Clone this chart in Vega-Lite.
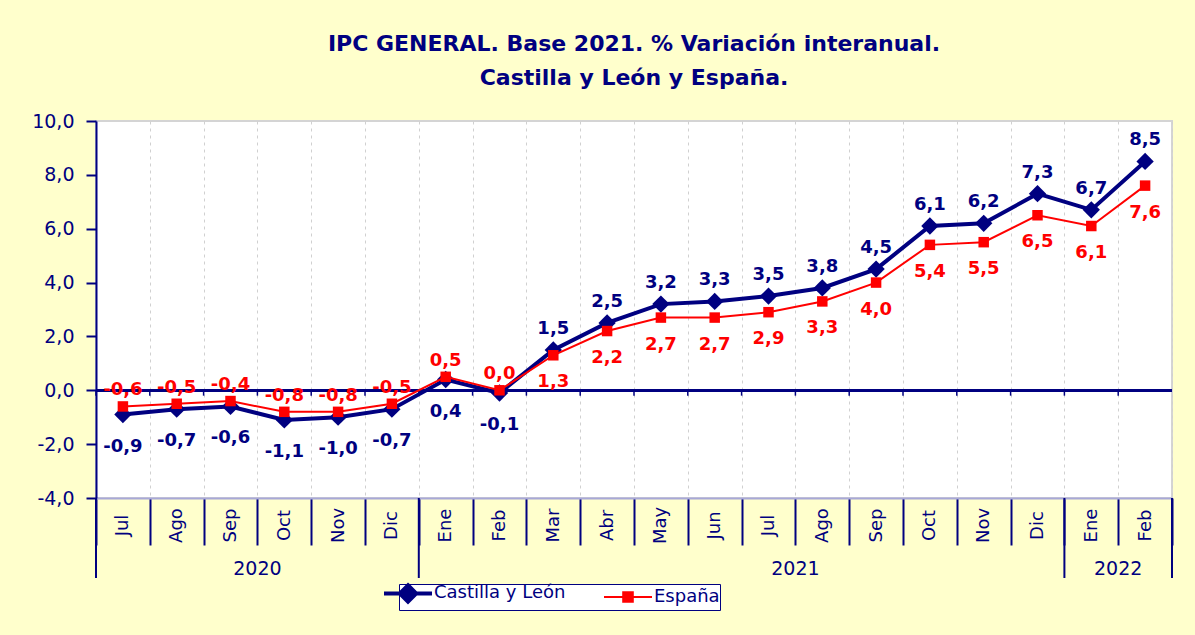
{
  "$schema": "https://vega.github.io/schema/vega-lite/v6.json",
  "width": 1076,
  "height": 377,
  "autosize": {"type": "none"},
  "padding": {"left": 96, "top": 121, "right": 23, "bottom": 137},
  "background": "#FFFFCC",
  "title": {
    "text": ["IPC GENERAL. Base 2021. % Variación interanual.", "Castilla y León y España."],
    "font": "DejaVu Sans", "fontSize": 22, "fontWeight": "bold", "color": "#000080",
    "anchor": "middle", "offset": 22, "lineHeight": 34
  },
  "config": {
    "aria": false,
    "view": {"fill": "white", "stroke": "#D4D4D4", "strokeWidth": 2},
    "font": "DejaVu Sans"
  },
  "data": {"values": [
    {"fecha": "2020-07", "anio": "2020", "serie": "Castilla y León", "v": -0.9},
    {"fecha": "2020-08", "anio": "2020", "serie": "Castilla y León", "v": -0.7},
    {"fecha": "2020-09", "anio": "2020", "serie": "Castilla y León", "v": -0.6},
    {"fecha": "2020-10", "anio": "2020", "serie": "Castilla y León", "v": -1.1},
    {"fecha": "2020-11", "anio": "2020", "serie": "Castilla y León", "v": -1.0},
    {"fecha": "2020-12", "anio": "2020", "serie": "Castilla y León", "v": -0.7},
    {"fecha": "2021-01", "anio": "2021", "serie": "Castilla y León", "v": 0.4},
    {"fecha": "2021-02", "anio": "2021", "serie": "Castilla y León", "v": -0.1},
    {"fecha": "2021-03", "anio": "2021", "serie": "Castilla y León", "v": 1.5},
    {"fecha": "2021-04", "anio": "2021", "serie": "Castilla y León", "v": 2.5},
    {"fecha": "2021-05", "anio": "2021", "serie": "Castilla y León", "v": 3.2},
    {"fecha": "2021-06", "anio": "2021", "serie": "Castilla y León", "v": 3.3},
    {"fecha": "2021-07", "anio": "2021", "serie": "Castilla y León", "v": 3.5},
    {"fecha": "2021-08", "anio": "2021", "serie": "Castilla y León", "v": 3.8},
    {"fecha": "2021-09", "anio": "2021", "serie": "Castilla y León", "v": 4.5},
    {"fecha": "2021-10", "anio": "2021", "serie": "Castilla y León", "v": 6.1},
    {"fecha": "2021-11", "anio": "2021", "serie": "Castilla y León", "v": 6.2},
    {"fecha": "2021-12", "anio": "2021", "serie": "Castilla y León", "v": 7.3},
    {"fecha": "2022-01", "anio": "2022", "serie": "Castilla y León", "v": 6.7},
    {"fecha": "2022-02", "anio": "2022", "serie": "Castilla y León", "v": 8.5},
    {"fecha": "2020-07", "anio": "2020", "serie": "España", "v": -0.6},
    {"fecha": "2020-08", "anio": "2020", "serie": "España", "v": -0.5},
    {"fecha": "2020-09", "anio": "2020", "serie": "España", "v": -0.4},
    {"fecha": "2020-10", "anio": "2020", "serie": "España", "v": -0.8},
    {"fecha": "2020-11", "anio": "2020", "serie": "España", "v": -0.8},
    {"fecha": "2020-12", "anio": "2020", "serie": "España", "v": -0.5},
    {"fecha": "2021-01", "anio": "2021", "serie": "España", "v": 0.5},
    {"fecha": "2021-02", "anio": "2021", "serie": "España", "v": 0.0},
    {"fecha": "2021-03", "anio": "2021", "serie": "España", "v": 1.3},
    {"fecha": "2021-04", "anio": "2021", "serie": "España", "v": 2.2},
    {"fecha": "2021-05", "anio": "2021", "serie": "España", "v": 2.7},
    {"fecha": "2021-06", "anio": "2021", "serie": "España", "v": 2.7},
    {"fecha": "2021-07", "anio": "2021", "serie": "España", "v": 2.9},
    {"fecha": "2021-08", "anio": "2021", "serie": "España", "v": 3.3},
    {"fecha": "2021-09", "anio": "2021", "serie": "España", "v": 4.0},
    {"fecha": "2021-10", "anio": "2021", "serie": "España", "v": 5.4},
    {"fecha": "2021-11", "anio": "2021", "serie": "España", "v": 5.5},
    {"fecha": "2021-12", "anio": "2021", "serie": "España", "v": 6.5},
    {"fecha": "2022-01", "anio": "2022", "serie": "España", "v": 6.1},
    {"fecha": "2022-02", "anio": "2022", "serie": "España", "v": 7.6}
  ]},
  "transform": [
    {"calculate": "replace(replace(format(datum.v, '.1f'), '.', ','), '\u2212', '-')", "as": "etiqueta"}
  ],
  "layer": [
    {
      "mark": {"type": "rule", "color": "#000080", "strokeWidth": 2},
      "encoding": {"y": {"datum": 0}}
    },
    {
      "transform": [{"filter": "datum.serie === 'Castilla y León'"}],
      "mark": {"type": "rule", "color": "#000080", "strokeWidth": 1.5},
      "encoding": {
        "x": {"field": "fecha", "type": "ordinal", "bandPosition": 0},
        "y": {"datum": 0},
        "y2": {"datum": -0.2}
      }
    },
    {
      "transform": [{"filter": "datum.serie === 'Castilla y León' && (datum.fecha === '2020-07' || datum.fecha === '2021-01' || datum.fecha === '2022-01')"}],
      "mark": {"type": "rule", "color": "#000080", "strokeWidth": 2},
      "encoding": {
        "x": {"field": "fecha", "type": "ordinal", "bandPosition": 0},
        "y": {"datum": -4},
        "y2": {"datum": -6.97}
      }
    },
    {
      "transform": [{"filter": "datum.serie === 'Castilla y León' && datum.fecha === '2022-02'"}],
      "mark": {"type": "rule", "color": "#000080", "strokeWidth": 2},
      "encoding": {
        "x": {"field": "fecha", "type": "ordinal", "bandPosition": 1},
        "y": {"datum": -4},
        "y2": {"datum": -6.97}
      }
    },
    {
      "transform": [{"filter": "datum.serie === 'Castilla y León' && (datum.fecha === '2020-10' || datum.fecha === '2021-08' || datum.fecha === '2022-02')"}],
      "mark": {"type": "text", "font": "DejaVu Sans", "fontSize": 19, "color": "#000080", "baseline": "middle", "align": "center"},
      "encoding": {
        "x": {"field": "fecha", "type": "ordinal", "bandPosition": 0},
        "y": {"datum": -6.64},
        "text": {"field": "anio", "type": "nominal"}
      }
    },
    {
      "transform": [{"filter": "datum.serie === 'Castilla y León'"}],
      "mark": {"type": "line", "strokeWidth": 4},
      "encoding": {
        "x": {
          "field": "fecha", "type": "ordinal", "scale": {"type": "band", "paddingInner": 0, "paddingOuter": 0},
          "axis": {
            "title": null, "tickBand": "extent", "grid": true, "gridColor": "#D0D0D0", "gridDash": [3, 4], "gridWidth": 1,
            "domainColor": "#A8A8D8", "domainWidth": 2, "ticks": true, "tickSize": 47, "tickColor": "#000080", "tickWidth": 2,
            "labelAngle": 270, "labelAlign": "center", "labelBaseline": "middle", "labelPadding": -20,
            "labelFont": "DejaVu Sans", "labelFontSize": 18, "labelColor": "#000080",
            "labelExpr": "isString(datum.value) ? ['Ene','Feb','Mar','Abr','May','Jun','Jul','Ago','Sep','Oct','Nov','Dic'][toNumber(substring(datum.value,5,7))-1] : ''"
          }
        },
        "y": {
          "field": "v", "type": "quantitative",
          "scale": {"domain": [-4, 10], "nice": false, "zero": false},
          "axis": {
            "title": null, "values": [-4, -2, 0, 2, 4, 6, 8, 10], "grid": false,
            "labelExpr": "replace(replace(format(datum.value, '.1f'), '.', ','), '\u2212', '-')",
            "domainColor": "#000080", "domainWidth": 2, "tickColor": "#000080", "tickWidth": 2, "tickSize": 10,
            "labelColor": "#000080", "labelFont": "DejaVu Sans", "labelFontSize": 19, "labelPadding": 12
          }
        },
        "color": {
          "field": "serie", "type": "nominal",
          "scale": {"domain": ["Castilla y León", "España"], "range": ["#000080", "#FF0000"]},
          "legend": {
            "title": null, "orient": "none", "legendX": 303, "legendY": 463, "direction": "horizontal",
            "fillColor": "white", "strokeColor": "#000080", "padding": 0, "columnPadding": 34, "labelOffset": 17,
            "labelFont": "DejaVu Sans", "labelFontSize": 18, "labelColor": "#000080", "labelLimit": 300,
            "symbolSize": 2304, "symbolStrokeWidth": 3,
            "encode": {
              "symbols": {"update": {
                "shape": {"signal": "datum.value === 'España' ? 'M-1,0H1M-0.2,-0.2H0.2V0.2H-0.2Z' : 'M-1,0H1M0,-0.34L0.34,0L0,0.34L-0.34,0Z'"},
                "fill": {"signal": "datum.value === 'España' ? '#FF0000' : '#000080'"},
                "stroke": {"signal": "datum.value === 'España' ? '#FF0000' : '#000080'"},
                "strokeWidth": {"signal": "datum.value === 'España' ? 2 : 4"}
              }}
            }
          }
        }
      }
    },
    {
      "transform": [{"filter": "datum.serie === 'Castilla y León'"}],
      "mark": {"type": "point", "shape": "diamond", "filled": true, "size": 300, "opacity": 1},
      "encoding": {
        "x": {"field": "fecha", "type": "ordinal"},
        "y": {"field": "v", "type": "quantitative"},
        "color": {"field": "serie", "type": "nominal"}
      }
    },
    {
      "transform": [{"filter": "datum.serie === 'España'"}],
      "mark": {"type": "line", "strokeWidth": 2},
      "encoding": {
        "x": {"field": "fecha", "type": "ordinal"},
        "y": {"field": "v", "type": "quantitative"},
        "color": {"field": "serie", "type": "nominal"}
      }
    },
    {
      "transform": [{"filter": "datum.serie === 'España'"}],
      "mark": {"type": "point", "shape": "square", "filled": true, "size": 110, "opacity": 1},
      "encoding": {
        "x": {"field": "fecha", "type": "ordinal"},
        "y": {"field": "v", "type": "quantitative"},
        "color": {"field": "serie", "type": "nominal"}
      }
    },
    {
      "transform": [{"filter": "datum.serie === 'Castilla y León' && datum.fecha >= '2021-03'"}],
      "mark": {"type": "text", "font": "DejaVu Sans", "fontSize": 18, "fontWeight": "bold", "color": "#000080", "baseline": "alphabetic", "dy": -16},
      "encoding": {
        "x": {"field": "fecha", "type": "ordinal"},
        "y": {"field": "v", "type": "quantitative"},
        "text": {"field": "etiqueta", "type": "nominal"}
      }
    },
    {
      "transform": [{"filter": "datum.serie === 'Castilla y León' && datum.fecha < '2021-03'"}],
      "mark": {"type": "text", "font": "DejaVu Sans", "fontSize": 18, "fontWeight": "bold", "color": "#000080", "baseline": "top", "dy": 23},
      "encoding": {
        "x": {"field": "fecha", "type": "ordinal"},
        "y": {"field": "v", "type": "quantitative"},
        "text": {"field": "etiqueta", "type": "nominal"}
      }
    },
    {
      "transform": [{"filter": "datum.serie === 'España' && datum.fecha < '2021-03'"}],
      "mark": {"type": "text", "font": "DejaVu Sans", "fontSize": 18, "fontWeight": "bold", "color": "#FF0000", "baseline": "alphabetic", "dy": -11},
      "encoding": {
        "x": {"field": "fecha", "type": "ordinal"},
        "y": {"field": "v", "type": "quantitative"},
        "text": {"field": "etiqueta", "type": "nominal"}
      }
    },
    {
      "transform": [{"filter": "datum.serie === 'España' && datum.fecha >= '2021-03'"}],
      "mark": {"type": "text", "font": "DejaVu Sans", "fontSize": 18, "fontWeight": "bold", "color": "#FF0000", "baseline": "top", "dy": 18},
      "encoding": {
        "x": {"field": "fecha", "type": "ordinal"},
        "y": {"field": "v", "type": "quantitative"},
        "text": {"field": "etiqueta", "type": "nominal"}
      }
    }
  ]
}
